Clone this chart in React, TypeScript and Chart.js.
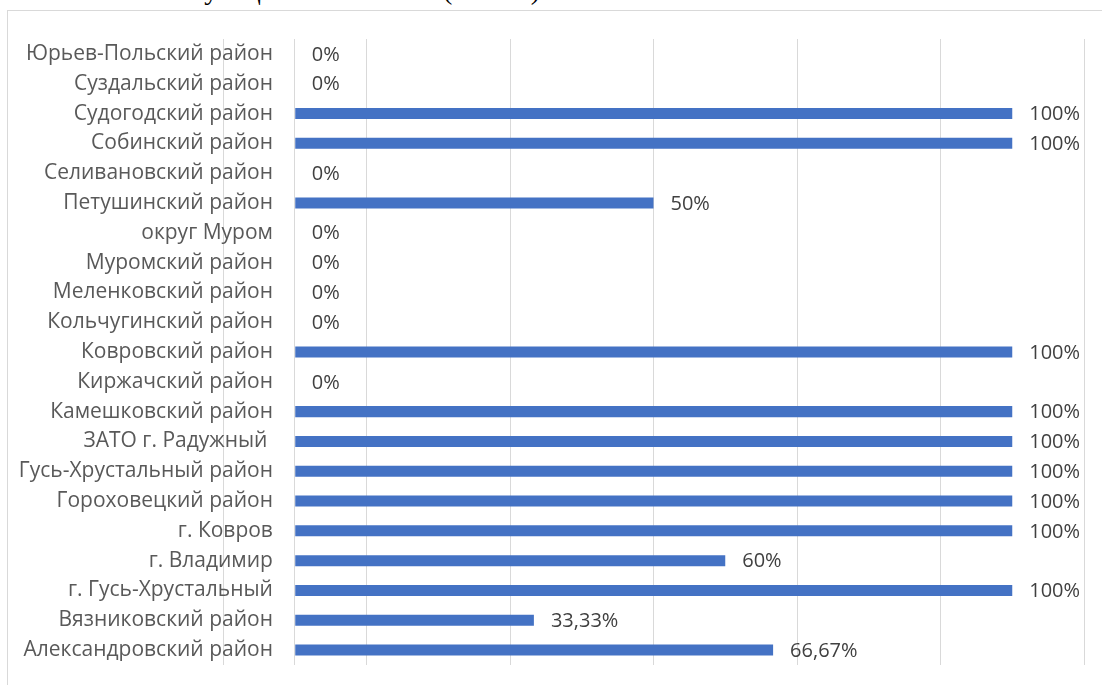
import React, { useEffect, useRef } from "react";
import { Chart, registerables } from "chart.js";

Chart.register(...registerables);

const categories: string[] = [
  "Юрьев-Польский район",
  "Суздальский район",
  "Судогодский район",
  "Собинский район",
  "Селивановский район",
  "Петушинский район",
  "округ Муром",
  "Муромский район",
  "Меленковский район",
  "Кольчугинский район",
  "Ковровский район",
  "Киржачский район",
  "Камешковский район",
  "ЗАТО г. Радужный ",
  "Гусь-Хрустальный район",
  "Гороховецкий район",
  "г. Ковров",
  "г. Владимир",
  "г. Гусь-Хрустальный",
  "Вязниковский район",
  "Александровский район",
];

const values: number[] = [
  0, 0, 100, 100, 0, 50, 0, 0, 0, 0, 100, 0, 100, 100, 100, 100, 100, 60, 100, 33.33, 66.67,
];

const gridTicks: number[] = [-10, 0, 10, 30, 50, 70, 90, 110];
const axisMin = -10;
const axisMax = 110;

const barColor = "#4472C4";
const gridColor = "#d9d9d9";
const textColor = "#595959";
const labelColor = "#404040";
const fontFamily = "'Open Sans', 'Noto Sans', sans-serif";

function fmt(v: number): string {
  return (Number.isInteger(v) ? String(v) : v.toFixed(2).replace(".", ",")) + "%";
}

const barLabelPlugin = {
  id: "barLabels",
  afterDatasetsDraw(chart: any) {
    const ctx = chart.ctx;
    const meta = chart.getDatasetMeta(0);
    ctx.save();
    ctx.font = `20px ${fontFamily}`;
    ctx.fillStyle = labelColor;
    ctx.textAlign = "left";
    ctx.textBaseline = "middle";
    meta.data.forEach((bar: any, i: number) => {
      const { x, y } = bar.getProps(["x", "y"], true);
      ctx.fillText(fmt(values[i]), x + 17, y + 1);
    });
    ctx.restore();
  },
};

export default function App() {
  const canvasRef = useRef<HTMLCanvasElement | null>(null);

  useEffect(() => {
    if (!canvasRef.current) return;
    const chart = new Chart(canvasRef.current, {
      type: "bar",
      data: {
        labels: categories,
        datasets: [
          {
            data: values,
            backgroundColor: barColor,
            borderWidth: 0,
            barPercentage: 0.37,
            categoryPercentage: 1,
          },
        ],
      },
      options: {
        indexAxis: "y",
        responsive: false,
        animation: false,
        layout: { padding: { left: 223, right: 18, top: 39, bottom: 20 } },
        plugins: {
          legend: { display: false },
          tooltip: { enabled: false },
          title: { display: false },
        },
        scales: {
          x: {
            min: axisMin,
            max: axisMax,
            afterBuildTicks: (s: any) => {
              s.ticks = gridTicks.map((v) => ({ value: v }));
            },
            afterFit: (s: any) => {
              s.height = 0;
            },
            ticks: { display: false },
            grid: { color: gridColor, lineWidth: 1, drawTicks: false },
            border: { display: false },
          },
          y: {
            position: { x: 0 },
            ticks: {
              padding: 0,
              color: textColor,
              autoSkip: false,
              font: { family: fontFamily, size: 21 },
              callback: (_v: any, i: number) => categories[i] + "    ",
            },
            grid: { display: false, drawTicks: false },
            border: { display: false },
          },
        },
      } as any,
      plugins: [barLabelPlugin],
    });
    return () => chart.destroy();
  }, []);

  return (
    <div
      style={{
        position: "absolute",
        left: 0,
        top: 0,
        width: 1102,
        height: 685,
        overflow: "hidden",
        background: "#ffffff",
      }}
    >
      <div
        style={{
          position: "absolute",
          left: 0,
          top: -24,
          width: 1102,
          height: 40,
          fontFamily: "'Liberation Serif', 'Times New Roman', serif",
          fontSize: 28,
          lineHeight: "28px",
          color: "#000",
          whiteSpace: "pre",
        }}
      >
        <span style={{ position: "absolute", left: 77, top: 0 }}>соответствующих</span>
        <span style={{ position: "absolute", left: 443, top: 0 }}>(2023 г.)</span>
      </div>
      <div
        style={{
          position: "absolute",
          left: 7,
          top: 10,
          width: 1110,
          height: 700,
          borderLeft: "1px solid #d9d9d9",
          borderTop: "1px solid #d9d9d9",
          background: "#ffffff",
        }}
      />
      <canvas
        ref={canvasRef}
        width={1102}
        height={685}
        style={{ position: "absolute", left: 0, top: 0, display: "block" }}
      />
    </div>
  );
}
